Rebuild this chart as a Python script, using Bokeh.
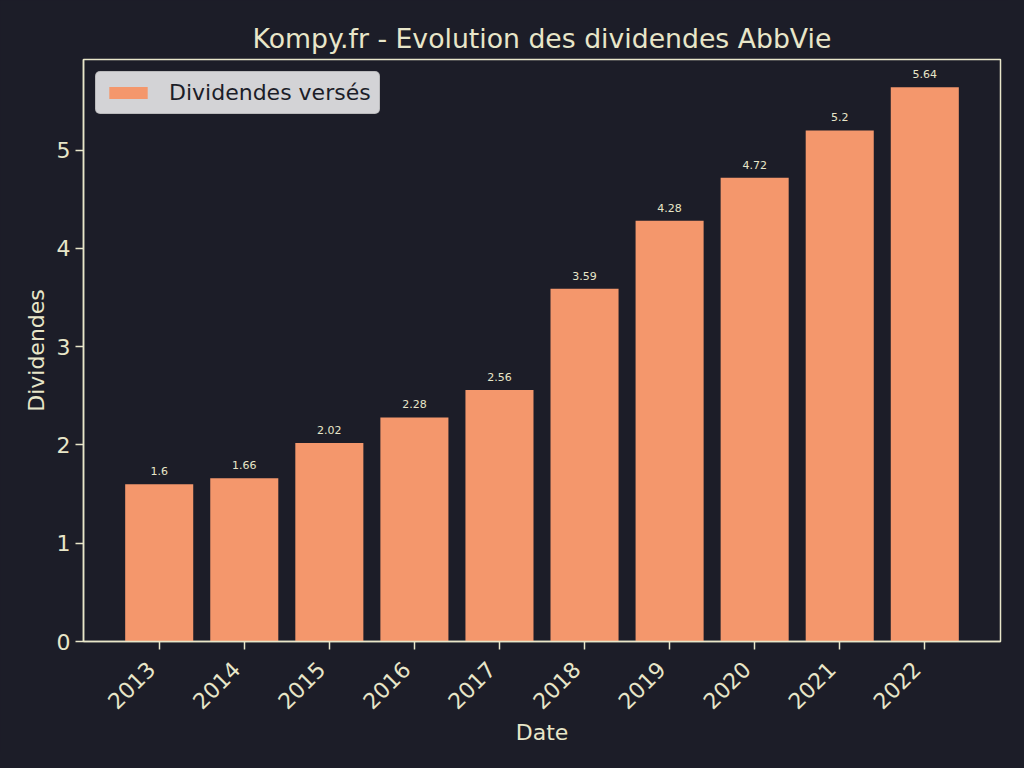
import math
from bokeh.plotting import figure
from bokeh.models import (ColumnDataSource, Range1d, FixedTicker, Legend, LegendItem,
                          LinearAxis)
from bokeh.core.properties import value
from bokeh.embed import file_html
from bokeh.resources import INLINE

years = [2013, 2014, 2015, 2016, 2017, 2018, 2019, 2020, 2021, 2022]
year_labels = ["2013", "2014", "2015", "2016", "2017", "2018", "2019", "2020", "2021", "2022"]
dividends = [1.6, 1.66, 2.02, 2.28, 2.56, 3.59, 4.28, 4.72, 5.2, 5.64]
labels = ["1.6", "1.66", "2.02", "2.28", "2.56", "3.59", "4.28", "4.72", "5.2", "5.64"]
y_ticks = [0, 1, 2, 3, 4, 5]

BG = "#1c1d28"
FG = "#e8e6c9"
BAR = "#f4976c"
FONT = "DejaVu Sans"

X0, X1 = 2012.11, 2022.89
FRAME_W = 917
shift = 8 * (X1 - X0) / FRAME_W  # move rotated labels 8px left of their ticks

src = ColumnDataSource(dict(x=years, top=dividends, label=labels))

p = figure(width=1008, height=752, output_backend="svg", toolbar_location=None,
           x_range=Range1d(X0, X1), y_range=Range1d(0, 5.922),
           min_border_left=83, min_border_right=8, min_border_top=59, min_border_bottom=111)
p.extra_x_ranges = {"lab": Range1d(X0 + shift, X1 + shift)}
p.background_fill_color = BG
p.border_fill_color = BG
p.outline_line_color = FG
p.outline_line_width = 1.5
p.grid.visible = False

p.title.text = "Kompy.fr - Evolution des dividendes AbbVie"
p.title.align = "center"
p.title.text_color = FG
p.title.text_font = FONT
p.title.text_font_size = "26.7px"
p.title.text_font_style = "normal"
p.title.standoff = 11

r = p.vbar(x="x", top="top", width=0.8, source=src, fill_color=BAR, line_color=None)
p.text(x="x", y="top", text="label", source=src, y_offset=-9,
       text_align="center", text_baseline="bottom", text_color=FG,
       text_font=value(FONT), text_font_size="11px")


def style(ax):
    ax.axis_line_color = FG
    ax.axis_line_width = 1.5
    ax.major_tick_line_color = FG
    ax.major_tick_line_width = 1.5
    ax.major_tick_out = 8
    ax.major_tick_in = 0
    ax.minor_tick_line_color = None
    ax.major_label_text_color = FG
    ax.major_label_text_font = FONT
    ax.major_label_text_font_size = "22px"
    ax.axis_label_text_color = FG
    ax.axis_label_text_font = FONT
    ax.axis_label_text_font_size = "22px"
    ax.axis_label_text_font_style = "normal"


style(p.xaxis[0])
style(p.yaxis[0])

p.xaxis[0].ticker = FixedTicker(ticks=years)
p.xaxis[0].major_label_overrides = {y: "" for y in years}
p.xaxis[0].major_label_standoff = 0

lab_axis = LinearAxis(x_range_name="lab")
style(lab_axis)
lab_axis.ticker = FixedTicker(ticks=years)
lab_axis.major_label_overrides = dict(zip(years, year_labels))
lab_axis.major_label_orientation = math.pi / 4
lab_axis.axis_line_color = None
lab_axis.major_tick_line_color = None
lab_axis.major_tick_out = 0
lab_axis.major_label_standoff = 16
lab_axis.axis_label = "Date"
lab_axis.axis_label_standoff = 1
p.add_layout(lab_axis, "below")

p.yaxis[0].ticker = FixedTicker(ticks=y_ticks)
p.yaxis[0].axis_label = "Dividendes"

legend = Legend(items=[LegendItem(label="Dividendes versés", renderers=[r])],
                location="top_left")
legend.background_fill_color = "#d3d3d6"
legend.background_fill_alpha = 1.0
legend.border_line_color = "#a0a0a0"
legend.border_radius = 5
legend.label_text_font = FONT
legend.label_text_font_size = "22px"
legend.label_text_color = "#1c1d28"
legend.glyph_width = 48
legend.glyph_height = 15
legend.margin = 12
legend.padding = 8
legend.spacing = 0
legend.label_standoff = 17
p.add_layout(legend)

html = file_html(p, INLINE)
html = html.replace("<head>", "<head><style>html,body{background:#1c1d28;}</style>", 1)
open("out.html", "w").write(html)
